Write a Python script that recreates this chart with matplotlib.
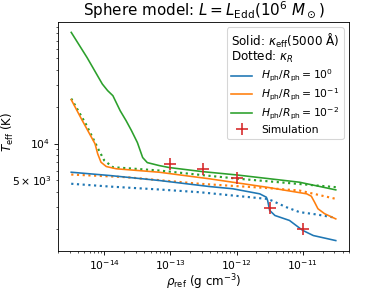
import numpy as np
import matplotlib
matplotlib.use("Agg")
import matplotlib.pyplot as plt
from matplotlib.ticker import FuncFormatter

# log10(rho_ref / g cm^-3) and T_eff (K)
blue_solid_logrho = [-14.5, -13.92, -13.17, -12.41, -12.06, -11.65, -11.55, -11.53, -11.5,
                     -11.42, -11.2, -11.1, -11.0, -10.84, -10.5]
blue_solid_T = [5820, 5470, 4980, 4440, 4260, 3870, 3630, 3410, 2830,
                2570, 2340, 2130, 1940, 1760, 1600]

orange_solid_logrho = [-14.5, -14.34, -14.18, -14.14, -14.1, -14.05, -13.97, -13.82, -13.17,
                       -12.41, -11.55, -10.94, -10.87, -10.82, -10.77, -10.67, -10.5]
orange_solid_T = [22900, 15700, 10900, 9950, 8240, 7030, 6480, 6210, 5820,
                  5140, 4390, 3870, 3700, 3300, 2920, 2660, 2410]

green_solid_logrho = [-14.5, -14.26, -14.03, -13.95, -13.87, -13.76, -13.67, -13.59, -13.5,
                      -13.42, -13.35, -13.17, -13.02, -12.52, -12.0, -11.05, -10.5]
green_solid_T = [81700, 50700, 30800, 27200, 24700, 18600, 15400, 12800, 10200,
                 7680, 6980, 6600, 6360, 5890, 5530, 4820, 4170]

blue_dot_logrho = [-14.5, -13.92, -13.17, -12.56, -11.55, -11.47, -11.25, -11.05, -10.79, -10.5]
blue_dot_T = [4680, 4440, 4200, 3990, 3520, 3410, 3010, 2740, 2620, 2460]

orange_dot_logrho = [-14.5, -13.67, -12.56, -11.55, -11.05, -10.5]
orange_dot_T = [5570, 5300, 4680, 4320, 4120, 3520]

green_dot_logrho = [-14.5, -14.28, -14.18, -14.08, -14.0, -13.87, -13.17, -12.46, -11.96, -10.5]
green_dot_T = [23400, 14500, 11300, 8770, 7260, 6400, 6010, 5470, 5140, 4390]

sim_rho = [1e-13, 3.16e-13, 1e-12, 3.16e-12, 1e-11]
sim_T = [6820, 6210, 5200, 2950, 2000]

xticks = [1e-14, 1e-13, 1e-12, 1e-11]
labels = [r'$H_{\rm ph}/R_{\rm ph}=10^{0}$', r'$H_{\rm ph}/R_{\rm ph}=10^{-1}$',
          r'$H_{\rm ph}/R_{\rm ph}=10^{-2}$']
colors = ['tab:blue', 'tab:orange', 'tab:green']

fig = plt.figure(figsize=(5, 3.75), dpi=77.6)
ax = fig.add_axes([0.1495, 0.1375, 0.75, 0.787])

# dotted: Rosseland opacity
for lr, T, c in zip([blue_dot_logrho, orange_dot_logrho, green_dot_logrho],
                    [blue_dot_T, orange_dot_T, green_dot_T], colors):
    ax.plot(10**np.array(lr), T, ':', color=c, lw=2)

# solid: effective opacity at 5000 A
for lr, T, c, lab in zip([blue_solid_logrho, orange_solid_logrho, green_solid_logrho],
                         [blue_solid_T, orange_solid_T, green_solid_T], colors, labels):
    ax.plot(10**np.array(lr), T, '-', color=c, lw=1.5, label=lab)

ax.plot(sim_rho, sim_T, '+', color='tab:red', ms=11, mew=1.5, ls='none', label='Simulation')

ax.set_xscale('log')
ax.set_yscale('log')
ax.set_xticks(xticks)
ax.yaxis.set_minor_formatter(FuncFormatter(
    lambda v, pos: r'$5\times10^{3}$' if abs(v - 5000) < 1 else ''))

ax.set_xlabel(r'$\rho_{\rm ref}$ (g cm$^{-3}$)', fontsize=11, labelpad=0)
ax.set_ylabel(r'$T_{\rm eff}$ (K)', fontsize=11)
ax.yaxis.set_label_coords(-0.145, 0.52)
ax.set_title(r'Sphere model: $L=L_{\rm Edd}(10^6\ M_\odot)$', fontsize=14)
leg = ax.legend(loc='upper right', title='Solid: $\\kappa_{\\rm eff}$(5000 Å)\nDotted: $\\kappa_R$',
                title_fontsize=11.2, alignment='left', labelspacing=0.25)
leg.get_title().set_linespacing(0.95)

fig.savefig('out.png', dpi=77.6)
